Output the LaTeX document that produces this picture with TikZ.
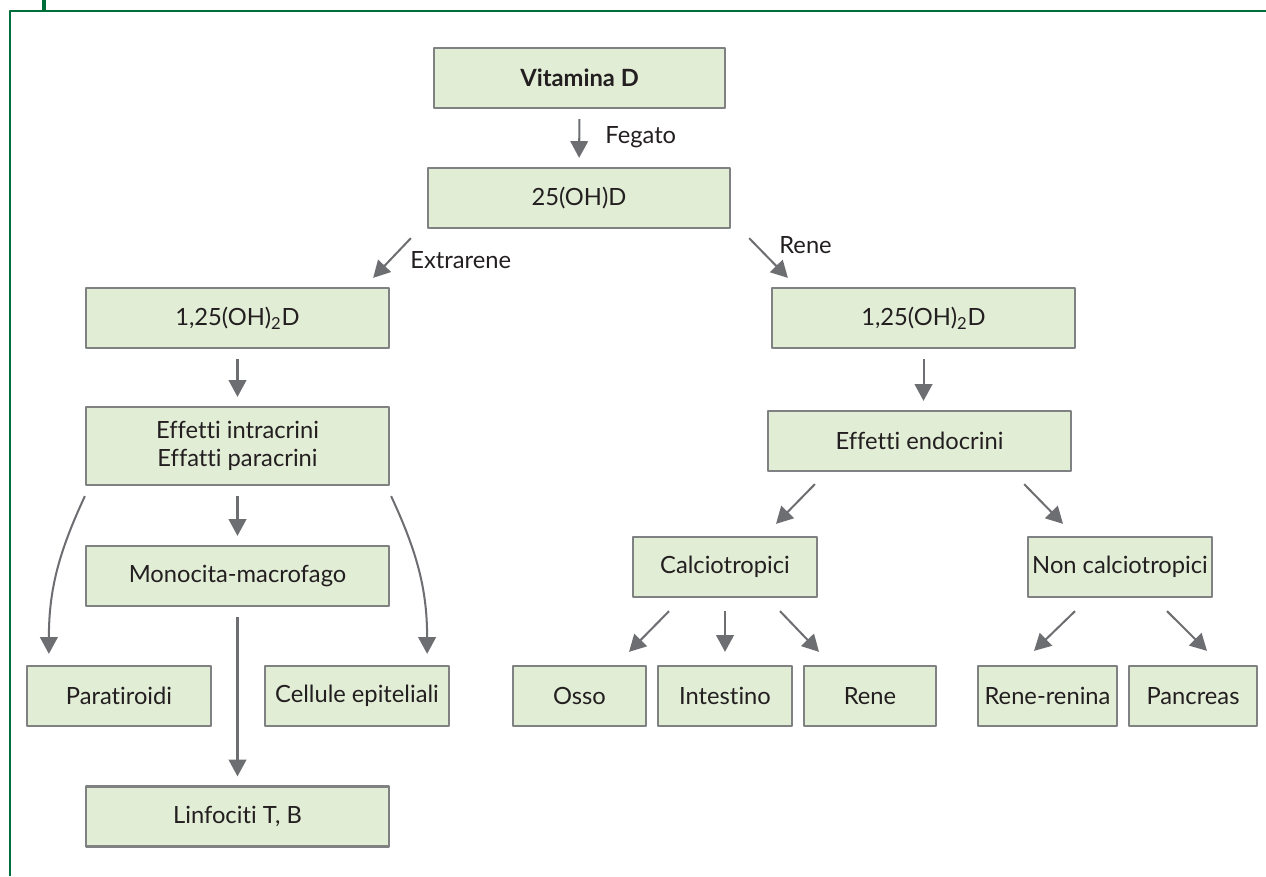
\documentclass[tikz,border=0pt]{standalone}
\usepackage{fontspec}
\setmainfont{Lato}[Ligatures={NoCommon}]
\usetikzlibrary{arrows.meta,calc}
\definecolor{boxfill}{RGB}{226,237,214}
\definecolor{boxline}{RGB}{128,129,131}
\definecolor{arrowgray}{RGB}{109,110,113}
\definecolor{framegreen}{RGB}{0,110,58}
\definecolor{inkdark}{RGB}{35,31,32}
\begin{document}
\begin{tikzpicture}[x=0.02cm, y=-0.02cm, >={Triangle[length=9.5pt,width=10pt]},
	font=\fontsize{13.5}{16}\selectfont, line join=round, text=inkdark,
	box/.style={draw=boxline, fill=boxfill, line width=1.3pt, minimum height=1.2cm, align=center, inner sep=0pt},
	arr/.style={->, draw=arrowgray, line width=1.15pt, shorten <=0.2cm, shorten >=0.18cm},
	diag/.style={->, draw=arrowgray, line width=1.15pt},
	lbl/.style={inner sep=0pt}]
	\useasboundingbox (0,0) rectangle (1266,876);
	% cornice
	\draw[framegreen, line width=1.1pt] (10,876) -- (10,11) -- (1266,11);
	\draw[framegreen, line width=2.3pt] (44,0) -- (44,11);
	
	% riquadri
	\node[box, minimum width=5.82cm] (vit) at (579.5,78) {\textbf{Vitamina D}};
	\node[box, minimum width=6.04cm] (oh) at (579,198) {25(OH)D};
	\node[box, minimum width=6.06cm] (extD) at (237.5,318) {1,25(OH)\textsubscript{2}D};
	\node[box, minimum width=6.06cm] (renD) at (923.5,318) {1,25(OH)\textsubscript{2}D};
	\node[box, minimum width=6.06cm, minimum height=1.56cm] (intra) at (237.5,446) {Effetti intracrini\\Effatti paracrini};
	\node[box, minimum width=6.06cm] (endo) at (919.5,441) {Effetti endocrini};
	\node[box, minimum width=6.06cm] (mono) at (237.5,576) {Monocita-macrofago};
	\node[box, minimum width=6.06cm] (linf) at (237.5,816.5) {Linfociti T, B};
	\node[box, minimum width=3.68cm] (para) at (119,696) {Paratiroidi};
	\node[box, minimum width=3.68cm] (epi) at (357,696) {Cellule epiteliali};
	\node[box, minimum width=3.68cm] (calc) at (725,567) {Calciotropici};
	\node[box, minimum width=3.68cm] (noncalc) at (1120,567) {Non calciotropici};
	\node[box, minimum width=2.66cm] (osso) at (579.5,696) {Osso};
	\node[box, minimum width=2.68cm] (intest) at (725,696) {Intestino};
	\node[box, minimum width=2.64cm] (rene) at (870,696) {Rene};
	\node[box, minimum width=2.78cm] (renin) at (1047.5,696) {Rene-renina};
	\node[box, minimum width=2.56cm] (pancr) at (1193,696) {Pancreas};
	
	% etichette
	\node[lbl, anchor=base west] (fegato) at (605,143) {Fegato};
	\node[lbl, anchor=base west] (extra) at (410,268) {Extrarene};
	\node[lbl, anchor=base west] (renelbl) at (779,253) {Rene};
	
	% frecce
	\draw[arr] (vit.south) -- (oh.north);
	\draw[diag] ($(oh.south west)+(-16,9)$) -- ($(extD.north east)+(-17,-9)$);
	\draw[diag] ($(oh.south east)+(18,9)$) -- ($(renD.north west)+(17,-9)$);
	\draw[arr] (extD.south) -- (intra.north);
	\draw[arr] (renD.south) -- (renD.south |- endo.north);
	\draw[arr] (intra.south) -- (mono.north);
	\draw[arr] (mono.south) -- (linf.north);
	\draw[diag] ($(intra.south west)+(0,10)$) to[out=-115,in=90] ($(para.north west)+(23,-11)$);
	\draw[diag] ($(intra.south east)+(1,10)$) to[out=-65,in=90] ($(epi.north east)+(-23,-11)$);
	\draw[diag] ($(endo.south west)+(48,12)$) -- ($(calc.north)+(51,-12)$);
	\draw[diag] ($(endo.south east)+(-48,12)$) -- ($(noncalc.north)+(-57,-12)$);
	\draw[diag] ($(calc.south)+(-56,13)$) -- ($(osso.north)+(49.5,-13)$);
	\draw[diag] ($(calc.south)+(0,13)$) -- ($(intest.north)+(0,-13)$);
	\draw[diag] ($(calc.south)+(55,13)$) -- ($(rene.north)+(-51,-13)$);
	\draw[diag] ($(noncalc.south)+(-45,13)$) -- ($(renin.north)+(-13.5,-14)$);
	\draw[diag] ($(noncalc.south)+(47,13)$) -- ($(pancr.north)+(14,-14)$);
\end{tikzpicture}
\end{document}
